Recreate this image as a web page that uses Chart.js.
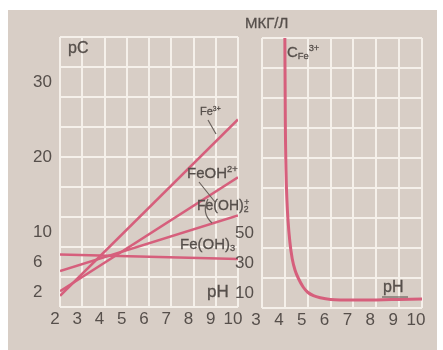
<!DOCTYPE html>
<html>
<head>
<meta charset="utf-8">
<script src="https://cdn.jsdelivr.net/npm/chart.js@4.4.1/dist/chart.umd.min.js"></script>
<style>
  html, body { margin: 0; padding: 0; background: #ffffff; }
  #wrap { position: relative; width: 443px; height: 350px; overflow: hidden;
          font-family: "Liberation Sans", Arial, sans-serif; color: #564f4b; }
  #board { position: absolute; left: 8px; top: 10px; width: 429px; height: 340px; background: #d8cec6; }
  canvas { position: absolute; top: 0; }
  #cL { left: 0; width: 250px; height: 350px; }
  #cR { left: 230px; width: 213px; height: 350px; }
  .t { position: absolute; line-height: 1; white-space: nowrap; -webkit-text-stroke: 0.3px #564f4b; }
  .t sub, .t sup { font-size: 0.62em; line-height: 0; position: relative; vertical-align: baseline; }
  .t sup { top: -0.62em; }
  .t sub { top: 0.25em; }
</style>
</head>
<body>
<div id="wrap">
  <div id="board"></div>
  <canvas id="cL" width="250" height="350"></canvas>
  <canvas id="cR" width="213" height="350"></canvas>

  <div class="t" style="left:68px;top:40px;font-size:16px">pC</div>
  <div class="t" style="left:200px;top:106px;font-size:11px">Fe<sup>3+</sup></div>
  <div class="t" style="left:187px;top:165px;font-size:15px">FeOH<sup>2+</sup></div>
  <div class="t" style="left:197px;top:198px;font-size:14px">Fe(OH)<sub>2</sub><sup style="margin-left:-0.5em">+</sup></div>
  <div class="t" style="left:180px;top:236px;font-size:15px">Fe(OH)<sub>3</sub></div>
  <div class="t" style="left:207px;top:283px;font-size:17px">pH</div>

  <div class="t" style="left:245px;top:15px;font-size:15px">МКГ/Л</div>
  <div class="t" style="left:287px;top:44px;font-size:15px">C<sub>Fe</sub><sup>3+</sup></div>
  <div class="t" style="left:383px;top:279px;font-size:16px">pH</div>
</div>

<script>
// ---- pH ticks of the two panels ----
const phTicksLeft  = [2, 3, 4, 5, 6, 7, 8, 9, 10];
const phTicksRight = [3, 4, 5, 6, 7, 8, 9, 10];

// ---- pC axis (left panel): ticks, which of them carry a label ----
const pcTicks  = [0, 2, 4, 6, 8, 10, 12, 14, 16, 18, 20, 22, 24, 26, 28, 30, 32, 34, 36];
const pcLabels = [2, 6, 10, 20, 30];

// ---- concentration axis, мкг/л (right panel) ----
const concTicks  = [0, 10, 20, 30, 40, 50, 60, 70, 80, 90, 100, 110, 120, 130, 140, 150, 160, 170, 180];
const concLabels = [10, 30, 50];

// ---- pC of the iron species at the ends of the pH range ----
const linePH     = [2, 10];
const pFe3       = [1.5, 25.0];   // Fe3+
const pFeOH      = [2.1, 17.3];   // FeOH2+
const pFeOH2     = [4.8, 12.2];   // Fe(OH)2+
const pFeOH3     = [7.0, 6.4];    // Fe(OH)3

// ---- dissolved Fe3+ (мкг/л) against pH ----
const curvePH = [4.0, 4.02, 4.05, 4.09, 4.14, 4.22, 4.32, 4.45, 4.6, 4.8, 5.0, 5.25, 5.55, 6.0, 7.0, 8.0, 9.0, 10.0];
const curveC  = [180, 125, 92, 72, 58, 44, 33, 25, 19.5, 14, 10.5, 8.2, 6.8, 5.7, 5.3, 5.4, 5.7, 6.0];

const RED = '#d65f7c';
const GRID = '#f5f0ea';
const INK = '#564f4b';
const NONE = 'rgba(0,0,0,0)';
const tickFont = { family: '"Liberation Sans", Arial, sans-serif', size: 17 };

const toPoints = (xs, ys) => xs.map((x, i) => ({ x: x, y: ys[i] }));
const setTicks = list => scale => { scale.ticks = list.map(v => ({ value: v })); };

const lineSet = (data) => ({
  data: data, borderColor: RED, borderWidth: 2.6, pointRadius: 0, fill: false, tension: 0
});

// thin pointer strokes from the species names to their lines
const leaders = {
  id: 'leaders',
  afterDatasetsDraw(chart) {
    const c = chart.ctx;
    c.save();
    c.strokeStyle = '#6a625d';
    c.lineWidth = 1.2;
    c.beginPath();
    c.moveTo(208, 120); c.lineTo(216, 134);
    c.moveTo(199, 182); c.lineTo(215, 202);
    c.moveTo(208, 199); c.quadraticCurveTo(201, 213, 212, 223);
    c.stroke();
    c.restore();
  }
};

new Chart(document.getElementById('cL'), {
  type: 'line',
  data: {
    datasets: [
      lineSet(toPoints(linePH, pFe3)),
      lineSet(toPoints(linePH, pFeOH)),
      lineSet(toPoints(linePH, pFeOH2)),
      lineSet(toPoints(linePH, pFeOH3))
    ]
  },
  options: {
    responsive: false,
    animation: false,
    layout: { padding: { top: 37, right: 12, left: 33, bottom: 0 } },
    plugins: { legend: { display: false }, tooltip: { enabled: false } },
    scales: {
      x: {
        type: 'linear', min: 2, max: 10,
        afterBuildTicks: setTicks(phTicksLeft),
        afterFit: s => { s.height = 43; },
        grid: { color: GRID, lineWidth: 2, drawTicks: false },
        border: { display: false },
        ticks: { font: tickFont, color: INK, padding: 2, labelOffset: -5, autoSkip: false, maxRotation: 0 }
      },
      y: {
        type: 'linear', min: 0, max: 36,
        afterBuildTicks: setTicks(pcTicks),
        afterFit: s => { s.width = 27; },
        grid: {
          color: ctx => (ctx.tick && ctx.tick.value % 4 === 0) ? GRID : NONE,
          lineWidth: 2, drawTicks: false
        },
        border: { display: false },
        ticks: {
          font: tickFont, color: INK, padding: 0, crossAlign: 'far', autoSkip: false,
          callback: v => pcLabels.includes(v) ? String(v) : ''
        }
      }
    }
  },
  plugins: [leaders]
});

// short ink stroke under the right-hand pH label
const phUnderline = {
  id: 'phUnderline',
  afterDatasetsDraw(chart) {
    const c = chart.ctx;
    c.save();
    c.strokeStyle = '#6a625d';
    c.lineWidth = 1.2;
    c.beginPath();
    c.moveTo(152, 297); c.lineTo(178, 297);
    c.stroke();
    c.restore();
  }
};

new Chart(document.getElementById('cR'), {
  type: 'line',
  data: {
    datasets: [{
      data: toPoints(curvePH, curveC),
      borderColor: RED, borderWidth: 3, pointRadius: 0, fill: false,
      cubicInterpolationMode: 'monotone'
    }]
  },
  options: {
    responsive: false,
    animation: false,
    layout: { padding: { top: 38, right: 21, left: 0, bottom: 0 } },
    plugins: { legend: { display: false }, tooltip: { enabled: false } },
    scales: {
      x: {
        type: 'linear', min: 3, max: 10,
        afterBuildTicks: setTicks(phTicksRight),
        afterFit: s => { s.height = 42; },
        grid: { color: GRID, lineWidth: 2, drawTicks: false },
        border: { display: false },
        ticks: { font: tickFont, color: INK, padding: 2, labelOffset: -6, autoSkip: false, maxRotation: 0 }
      },
      y: {
        type: 'linear', min: 0, max: 180,
        afterBuildTicks: setTicks(concTicks),
        afterFit: s => { s.width = 32; },
        grid: {
          color: ctx => (ctx.tick && ctx.tick.value % 20 === 0) ? GRID : NONE,
          lineWidth: 2, drawTicks: false
        },
        border: { display: false },
        ticks: {
          font: tickFont, color: INK, padding: 8, autoSkip: false,
          callback: v => concLabels.includes(v) ? String(v) : ''
        }
      }
    }
  },
  plugins: [phUnderline]
});
</script>
</body>
</html>
